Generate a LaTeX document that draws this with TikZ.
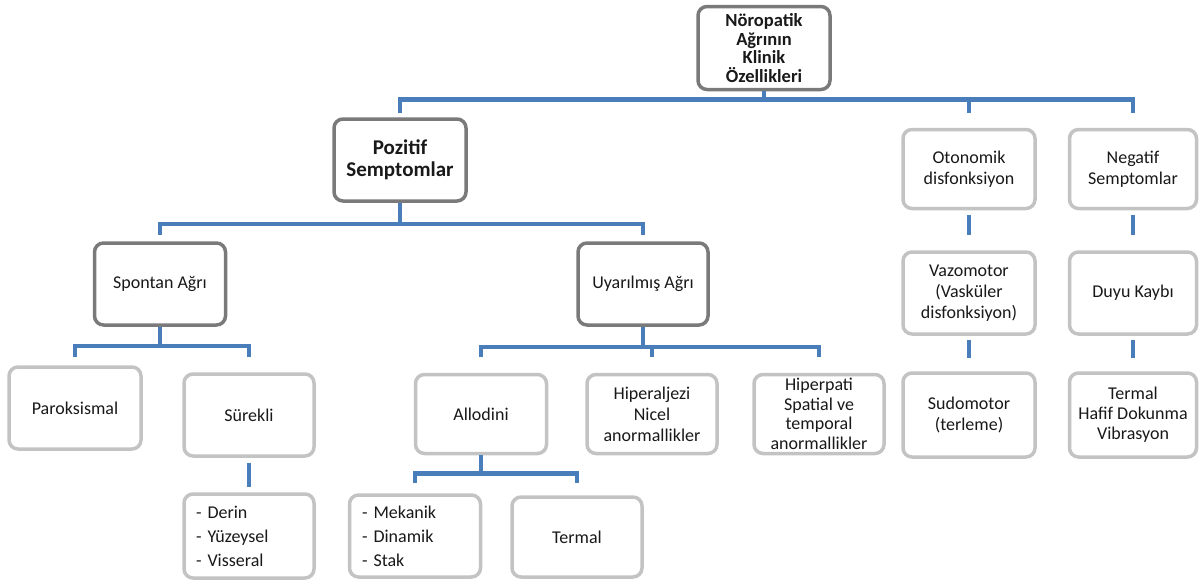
\documentclass[tikz,border=0pt]{standalone}
\usepackage{fontspec}
\setmainfont{Carlito}
\usetikzlibrary{calc}

\definecolor{linkblue}{RGB}{74,126,187}
\definecolor{darkframe}{RGB}{122,122,122}
\definecolor{lightframe}{RGB}{195,195,195}
\definecolor{txtgray}{RGB}{25,25,25}

\tikzset{
    box/.style={draw=lightframe, line width=3.5pt, rounded corners=9pt, fill=white,
        align=center, inner sep=2pt, text=txtgray, font=\fontsize{18}{21}\selectfont},
    mainbox/.style={box, draw=darkframe},
    listbox/.style={box, align=left, inner xsep=12pt, text width=106pt},
    link/.style={draw=linkblue, line width=4.5pt}
}

\begin{document}
\begin{tikzpicture}[x=1pt,y=-1pt]
        \useasboundingbox (0,0) rectangle (1199,582);

        % boxes
        \node[mainbox, font=\bfseries\fontsize{18.5}{18.5}\selectfont, minimum width=132pt, minimum height=83pt] (klinik) at (764,48) {Nöropatik\\Ağrının\\Klinik\\Özellikleri};
        \node[mainbox, font=\bfseries\fontsize{21}{22}\selectfont, minimum width=132pt, minimum height=82pt] (pozitif) at (400,160) {Pozitif\\Semptomlar};
        \node[box, minimum width=132pt, minimum height=79pt] (otonomik) at (969,169) {Otonomik\\disfonksiyon};
        \node[box, minimum width=127pt, minimum height=79pt] (negatif) at (1133,169) {Negatif\\Semptomlar};

        \node[mainbox, minimum width=131pt, minimum height=82pt] (spontan) at (160,284) {Spontan Ağrı};
        \node[mainbox, minimum width=130pt, minimum height=82pt] (uyarilmis) at (643,284) {Uyarılmış Ağrı};
        \node[box, minimum width=132pt, minimum height=82pt] (vazomotor) at (969,293) {Vazomotor\\(Vasküler\\disfonksiyon)};
        \node[box, minimum width=127pt, minimum height=82pt] (duyu) at (1133,293) {Duyu Kaybı};

        \node[box, minimum width=132pt, minimum height=82pt] (paroksismal) at (75,408) {Paroksismal};
        \node[box, minimum width=130pt, minimum height=82pt] (surekli) at (249,415) {Sürekli};
        \node[box, minimum width=131pt, minimum height=79pt] (allodini) at (481,414) {Allodini};
        \node[box, minimum width=130pt, minimum height=79pt] (hiperaljezi) at (652,414) {Hiperaljezi\\Nicel\\anormallikler};
        \node[box, font=\fontsize{18}{19.5}\selectfont, minimum width=130pt, minimum height=79pt] (hiperpati) at (819,414) {Hiperpati\\Spatial ve\\temporal\\anormallikler};
        \node[box, minimum width=132pt, minimum height=84pt] (sudomotor) at (969,415) {Sudomotor\\(terleme)};
        \node[box, font=\fontsize{18}{20}\selectfont, minimum width=127pt, minimum height=84pt] (duyutermal) at (1133,415) {Termal\\Hafif Dokunma\\Vibrasyon};

        \node[listbox, font=\fontsize{18}{24}\selectfont, minimum width=130pt, minimum height=84pt] (derin) at (249,536) {- Derin\\- Yüzeysel\\- Visseral};
        \node[listbox, font=\fontsize{18}{24}\selectfont, minimum width=131pt, minimum height=82pt] (mekanik) at (415,536) {- Mekanik\\- Dinamik\\- Stak};
        \node[box, minimum width=130pt, minimum height=80pt] (termal) at (577,537) {Termal};

        % connectors
        \coordinate (kb) at ([yshift=-8pt]klinik.south);
        \draw[link] (klinik.south) -- (kb);
        \draw[link] ($(kb -| pozitif)+(0,14)$) |- (kb) -| ($(kb -| negatif)+(0,14)$);
        \draw[link] (kb -| otonomik) -- ++(0,14);

        \coordinate (pb) at ([yshift=-21pt]pozitif.south);
        \draw[link] (pozitif.south) -- (pb);
        \draw[link] ($(pb -| spontan)+(0,11)$) |- (pb) -| ($(pb -| uyarilmis)+(0,11)$);

        \coordinate (sb) at ([yshift=-19pt]spontan.south);
        \draw[link] (spontan.south) -- (sb);
        \draw[link] ($(sb -| paroksismal)+(0,11)$) |- (sb) -| ($(sb -| surekli)+(0,11)$);

        \coordinate (ub) at ([yshift=-20pt]uyarilmis.south);
        \draw[link] (uyarilmis.south) -- (ub);
        \draw[link] ($(ub -| allodini)+(0,10)$) |- (ub) -| ($(ub -| hiperpati)+(0,10)$);
        \draw[link] (ub -| hiperaljezi) -- ++(0,10);

        \coordinate (ab) at ([yshift=-18pt]allodini.south);
        \draw[link] (allodini.south) -- (ab);
        \draw[link] ($(ab -| mekanik)+(0,10)$) |- (ab) -| ($(ab -| termal)+(0,10)$);

        \draw[link] ([yshift=-5pt]surekli.south) -- ([yshift=5pt]derin.north);
        \draw[link] ([yshift=-5pt]otonomik.south) -- ([yshift=15pt]vazomotor.north);
        \draw[link] ([yshift=-4pt]vazomotor.south) -- ([yshift=13pt]sudomotor.north);
        \draw[link] ([yshift=-5pt]negatif.south) -- ([yshift=15pt]duyu.north);
        \draw[link] ([yshift=-4pt]duyu.south) -- ([yshift=13pt]duyutermal.north);
    \end{tikzpicture}
\end{document}
